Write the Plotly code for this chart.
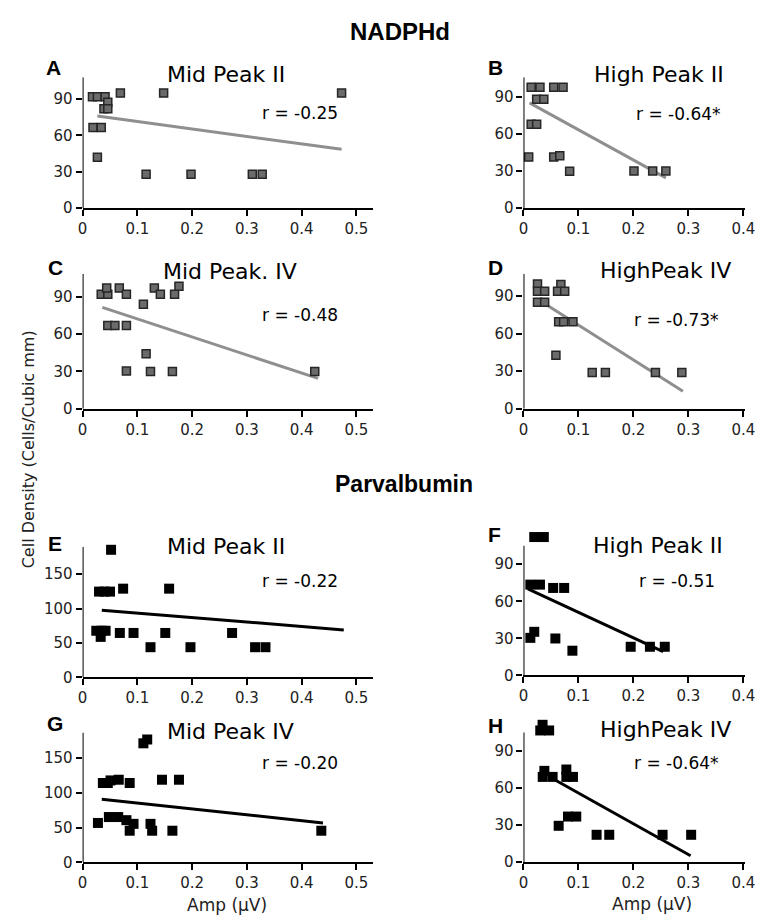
import plotly.graph_objects as go

W, H = 764, 922

# ---- NADPHd ----
# A: Mid Peak II
a_amp = [0.018, 0.027, 0.041, 0.046, 0.039, 0.046, 0.019, 0.034, 0.027, 0.069, 0.148, 0.473, 0.116, 0.198, 0.310, 0.328]
a_den = [92, 92, 92, 87.5, 82, 82, 66.5, 66.5, 42, 95, 95, 95, 28, 28, 28, 28]
a_fit_x = [0.027, 0.473]
a_fit_y = [76, 48.5]

# B: High Peak II
b_amp = [0.0095, 0.014, 0.030, 0.024, 0.037, 0.014, 0.024, 0.055, 0.072, 0.055, 0.066, 0.084, 0.201, 0.235, 0.259]
b_den = [41.3, 98, 98, 88.2, 88.2, 68, 68, 98, 98, 41.3, 42.4, 29.8, 30, 30, 30]
b_fit_x = [0.011, 0.259]
b_fit_y = [85.3, 24.4]

# C: Mid Peak. IV
c_amp = [0.034, 0.046, 0.044, 0.067, 0.080, 0.111, 0.131, 0.142, 0.168, 0.176, 0.046, 0.059, 0.080, 0.116, 0.080, 0.124, 0.164, 0.424]
c_den = [92, 92, 97, 97, 92, 84, 97, 92, 92, 98.5, 67, 67, 67, 44.3, 30.3, 30, 30, 30]
c_fit_x = [0.036, 0.43]
c_fit_y = [81.5, 24.4]

# D: HighPeak IV
d_amp = [0.0255, 0.0255, 0.0385, 0.0255, 0.0385, 0.068, 0.062, 0.075, 0.064, 0.073, 0.090, 0.059, 0.125, 0.149, 0.240, 0.288]
d_den = [99.8, 94, 94, 85.2, 85.2, 99.3, 94, 94, 69.6, 69.6, 69.6, 42.7, 29, 29, 29, 29]
d_fit_x = [0.033, 0.29]
d_fit_y = [85.5, 14]

# ---- Parvalbumin ----
# E: Mid Peak II
e_amp = [0.052, 0.030, 0.040, 0.050, 0.074, 0.158, 0.025, 0.035, 0.042, 0.033, 0.068, 0.093, 0.124, 0.151, 0.197, 0.273, 0.315, 0.334]
e_den = [185.5, 124.7, 124.7, 124.7, 129, 129, 67.8, 67.8, 67.8, 58.9, 64.6, 64.6, 43.9, 64.6, 43.9, 64.6, 43.9, 43.9]
e_fit_x = [0.035, 0.477]
e_fit_y = [97.7, 69]

# F: High Peak II
f_amp = [0.0196, 0.037, 0.0125, 0.030, 0.054, 0.074, 0.0125, 0.0196, 0.058, 0.089, 0.195, 0.230, 0.257]
f_den = [112, 112, 73.5, 73.5, 70.8, 70.8, 30.4, 35.3, 29.9, 20, 23.2, 23.2, 23.2]
f_fit_x = [0.008, 0.254]
f_fit_y = [70, 19.2]

# G: Mid Peak IV
g_amp = [0.111, 0.118, 0.037, 0.046, 0.051, 0.066, 0.086, 0.145, 0.176, 0.028, 0.048, 0.065, 0.080, 0.093, 0.086, 0.124, 0.127, 0.164, 0.436]
g_den = [171.5, 177, 114.3, 114.3, 118, 119, 114.3, 119, 119, 56.7, 65.2, 65.2, 60.7, 55.4, 45.5, 55.4, 45.5, 45.5, 45.5]
g_fit_x = [0.035, 0.439]
g_fit_y = [91, 56.7]

# H: HighPeak IV
h_amp = [0.0347, 0.0305, 0.0467, 0.038, 0.035, 0.053, 0.078, 0.078, 0.090, 0.064, 0.081, 0.096, 0.133, 0.156, 0.253, 0.305]
h_den = [111.3, 106.7, 106.7, 73.9, 69, 69, 75, 69, 69, 29.3, 36.8, 36.8, 22, 22, 22, 22]
h_fit_x = [0.056, 0.304]
h_fit_y = [66.9, 5]

letters = ["A", "B", "C", "D", "E", "F", "G", "H"]
titles = ["Mid Peak II", "High Peak II", "Mid Peak. IV", "HighPeak IV",
          "Mid Peak II", "High Peak II", "Mid Peak IV", "HighPeak IV"]
r_labels = ["r = -0.25", "r = -0.64*", "r = -0.48", "r = -0.73*",
            "r = -0.22", "r = -0.51", "r = -0.20", "r = -0.64*"]
amps = [a_amp, b_amp, c_amp, d_amp, e_amp, f_amp, g_amp, h_amp]
dens = [a_den, b_den, c_den, d_den, e_den, f_den, g_den, h_den]
fit_xs = [a_fit_x, b_fit_x, c_fit_x, d_fit_x, e_fit_x, f_fit_x, g_fit_x, h_fit_x]
fit_ys = [a_fit_y, b_fit_y, c_fit_y, d_fit_y, e_fit_y, f_fit_y, g_fit_y, h_fit_y]

# pixel boxes of each drawn axis: (left, right, top of y line, bottom)
boxes = [(71, 367, 70, 202), (520.7, 746.7, 70, 202),
         (71, 367, 268.3, 404.7), (520.7, 746.7, 268.3, 404.7),
         (71, 367, 544, 676), (520.7, 746.7, 543, 674),
         (71, 367, 731.7, 862.7), (520.7, 746.7, 731.7, 862.3)]
y_line_tops = [108, 106, 108.6, 108, 190, 105, 187, 105]   # where the y axis line stops
y_range_tops = [108, 106, 108.6, 108, 190, 116, 187, 116]  # room for points above the line
xtops = [0.53, 0.403] * 4
yticks = [[0, 30, 60, 90]] * 4 + [[0, 50, 100, 150], [0, 30, 60, 90]] * 2
xticks_left = [0, 0.1, 0.2, 0.3, 0.4, 0.5]
xticks_right = [0, 0.1, 0.2, 0.3, 0.4]

# annotation centres (pixels)
letter_pos = [(41, 60), (492, 60), (43, 262), (492, 262), (43, 541), (491, 532), (43, 723), (492, 725)]
title_pos = [(217, 67), (659, 67), (221, 266), (666, 265), (217, 544), (658, 543), (222, 731), (666, 729)]
r_pos = [(293, 106), (679, 107), (293, 310), (677, 315), (293, 579), (677, 579), (293, 762), (677, 762)]


def px(x):
    return x / W


def py(y):
    return 1 - y / H


def note(text, x, y, size, family="DejaVu Sans", color="black", angle=0):
    return dict(text=text, x=px(x), y=py(y), xref="paper", yref="paper",
                xanchor="center", yanchor="middle", showarrow=False, textangle=angle,
                font=dict(family=family, size=size, color=color))


fig = go.Figure()
layout = dict(width=W, height=H, margin=dict(l=0, r=0, t=0, b=0),
              plot_bgcolor="white", paper_bgcolor="white", showlegend=False,
              font=dict(family="DejaVu Sans", color="#111"))
annotations = []
shapes = []

for i in range(8):
    n = "" if i == 0 else str(i + 1)
    nadph = i < 4
    line_col = "#8f8f8f" if nadph else "black"
    fig.add_trace(go.Scatter(x=fit_xs[i], y=fit_ys[i], mode="lines",
                             line=dict(color=line_col, width=3),
                             xaxis="x" + n, yaxis="y" + n))
    if nadph:
        mk = dict(symbol="square", size=8, color="#6b6b6b", line=dict(color="#262626", width=1.5))
    else:
        mk = dict(symbol="square", size=10, color="black", line=dict(width=0))
    fig.add_trace(go.Scatter(x=amps[i], y=dens[i], mode="markers", marker=mk,
                             cliponaxis=False, xaxis="x" + n, yaxis="y" + n))

    l, r, t, b = boxes[i]
    top = b - (b - t) * y_range_tops[i] / y_line_tops[i]
    xt = xticks_left if i % 2 == 0 else xticks_right
    axis_common = dict(linewidth=2, linecolor="black", showgrid=False,
                       zeroline=False, ticks="outside", ticklen=6, tickwidth=2,
                       tickcolor="black", tickfont=dict(family="DejaVu Sans", size=15, color="#222"))
    layout["xaxis" + n] = dict(domain=[px(l), px(r)], range=[0, xtops[i]], anchor="y" + n,
                               showline=True, tickvals=xt,
                               ticktext=[("0" if v == 0 else str(v)) for v in xt],
                               **axis_common)
    layout["yaxis" + n] = dict(domain=[py(b), py(top)], range=[0, y_range_tops[i]], anchor="x" + n,
                               showline=False, tickvals=yticks[i], **axis_common)
    shapes.append(dict(type="line", xref="x" + n, yref="y" + n, x0=0, x1=0,
                       y0=0, y1=y_line_tops[i], line=dict(color="black", width=2)))

    annotations.append(note("<b>" + letters[i] + "</b>", *letter_pos[i], 21, "Liberation Sans"))
    annotations.append(note(titles[i], *title_pos[i], 22))
    annotations.append(note(r_labels[i], *r_pos[i], 17))

annotations.append(note("<b>NADPHd</b>", 395, 24, 24, "Liberation Sans"))
annotations.append(note("<b>Parvalbumin</b>", 399, 481, 23, "Liberation Sans"))
annotations.append(note("Cell Density (Cells/Cubic mm)", 16, 446, 16, color="#222", angle=-90))
annotations.append(note("Amp (\u00b5V)", 218, 906, 17, color="#222"))
annotations.append(note("Amp (\u00b5V)", 652, 905, 17, color="#222"))

layout["annotations"] = annotations
layout["shapes"] = shapes
fig.update_layout(**layout)
fig.write_html("out.html")
